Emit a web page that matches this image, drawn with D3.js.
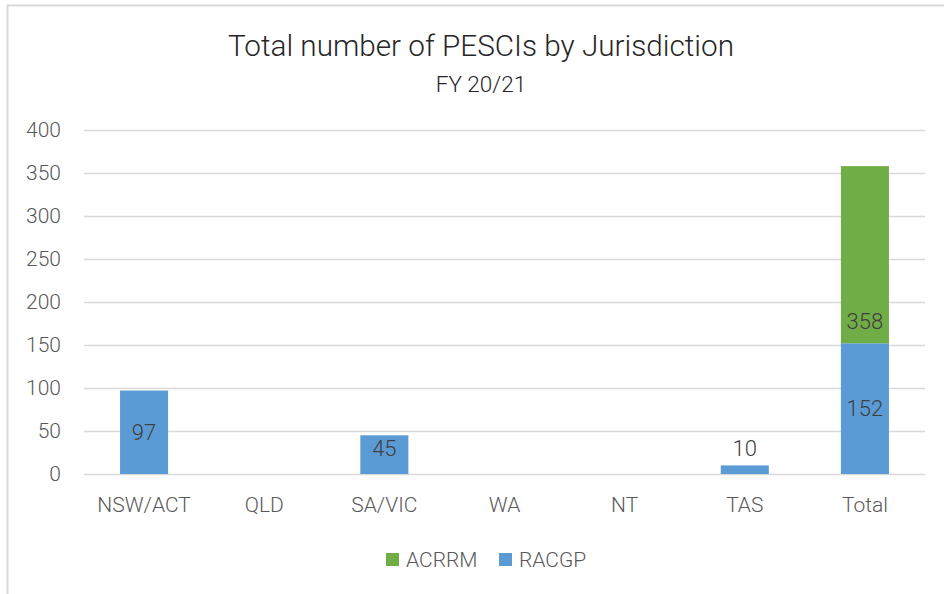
<!DOCTYPE html>
<html>
<head>
<meta charset="utf-8">
<script src="https://cdn.jsdelivr.net/npm/d3@7"></script>
<style>
  body { margin: 0; background: #fff; }
  svg { display: block; font-family: Roboto, "Noto Sans", sans-serif; font-weight: 300; }
</style>
</head>
<body>
<div id="chart"></div>
<script>
'use strict';

// data
const categories = ['NSW/ACT', 'QLD', 'SA/VIC', 'WA', 'NT', 'TAS', 'Total']
const racgp = [97, 0, 45, 0, 0, 10, 152]
const acrrm = [0, 0, 0, 0, 0, 0, 206]
const racgpLabels = ['97', '', '45', '', '', '10', '152']
const acrrmLabels = ['', '', '', '', '', '', '358']
const yTicks = [0, 50, 100, 150, 200, 250, 300, 350, 400]
const seriesNames = ['ACRRM', 'RACGP']
const colors = {ACRRM: '#70AD47', RACGP: '#5B9BD5'}

const W = 944, H = 594
const margin = {top: 130, right: 19, bottom: 120, left: 84}
const width = W - margin.left - margin.right, height = 474 - margin.top

const svg = d3.select('#chart')
    .append('svg')
    .attr('width', W)
    .attr('height', H)

// chart frame (only top and left edges fall inside the picture)
svg.append('rect')
    .attr('x', 7.5).attr('y', 5.5)
    .attr('width', W + 20).attr('height', H + 20)
    .attr('fill', 'none')
    .attr('stroke', '#d9d9d9')
    .attr('stroke-width', 2)

svg.append('text')
    .attr('x', 481).attr('y', 56)
    .attr('text-anchor', 'middle')
    .attr('font-size', 29.7)
    .attr('fill', '#262626')
    .text('Total number of PESCIs by Jurisdiction')

svg.append('text')
    .attr('x', 481).attr('y', 92)
    .attr('text-anchor', 'middle')
    .attr('font-size', 22.5)
    .attr('fill', '#262626')
    .text('FY 20/21')

const graph = svg.append('g')
    .attr('transform', `translate(${margin.left},${margin.top})`)

const x = d3.scaleBand().domain(categories).range([0, width]).paddingInner(0.6).paddingOuter(0.3)
const y = d3.scaleLinear().domain([0, 400]).range([height, 0])

// gridlines + y labels
graph.append('g')
    .call(d3.axisLeft(y).tickValues(yTicks).tickSize(-width).tickPadding(23))
    .call(g => g.select('.domain').remove())
    .call(g => g.selectAll('.tick line').attr('stroke', '#d9d9d9').attr('stroke-width', 1.5))
    .call(g => g.selectAll('.tick text')
        .attr('font-size', 21).attr('fill', '#595959')
        .attr('font-family', 'Roboto, sans-serif').attr('font-weight', 300))

// x labels
graph.append('g')
    .attr('transform', `translate(0,${height})`)
    .call(d3.axisBottom(x).tickSize(0).tickPadding(23))
    .call(g => g.select('.domain').remove())
    .call(g => g.selectAll('.tick text')
        .attr('font-size', 21).attr('fill', '#595959')
        .attr('font-family', 'Roboto, sans-serif').attr('font-weight', 300))

const rows = categories.map((c, i) => ({cat: c, RACGP: racgp[i], ACRRM: acrrm[i], i}))
const stack = d3.stack().keys(['RACGP', 'ACRRM'])(rows)

graph.selectAll('g.series')
    .data(stack)
    .join('g')
    .attr('class', 'series')
    .attr('fill', d => colors[d.key])
    .selectAll('rect')
    .data(d => d.filter(s => s[1] - s[0] > 0))
    .join('rect')
    .attr('x', d => x(d.data.cat))
    .attr('width', x.bandwidth())
    .attr('y', d => y(d[1]))
    .attr('height', d => y(d[0]) - y(d[1]))

// RACGP labels, centred but kept clear of the axis
graph.selectAll('text.lab-r')
    .data(rows.filter(d => racgpLabels[d.i] !== ''))
    .join('text')
    .attr('class', 'lab-r')
    .attr('x', d => x(d.cat) + x.bandwidth() / 2)
    .attr('y', d => Math.min(y(d.RACGP / 2), height - 26))
    .attr('dy', '0.35em')
    .attr('text-anchor', 'middle')
    .attr('font-size', 22)
    .attr('fill', '#404040')
    .text(d => racgpLabels[d.i])

// ACRRM labels sit at the segment base
graph.selectAll('text.lab-a')
    .data(rows.filter(d => acrrmLabels[d.i] !== ''))
    .join('text')
    .attr('class', 'lab-a')
    .attr('x', d => x(d.cat) + x.bandwidth() / 2)
    .attr('y', d => y(d.RACGP) - 22)
    .attr('dy', '0.35em')
    .attr('text-anchor', 'middle')
    .attr('font-size', 22)
    .attr('fill', '#404040')
    .text(d => acrrmLabels[d.i])

// legend
const legendX = [386, 499]
const legend = svg.append('g')
legend.selectAll('rect')
    .data(seriesNames)
    .join('rect')
    .attr('x', (d, i) => legendX[i])
    .attr('y', 553)
    .attr('width', 13).attr('height', 13)
    .attr('fill', d => colors[d])
legend.selectAll('text')
    .data(seriesNames)
    .join('text')
    .attr('x', (d, i) => legendX[i] + 20)
    .attr('y', 559.5)
    .attr('dy', '0.35em')
    .attr('font-size', 21)
    .attr('fill', '#595959')
    .text(d => d)
</script>
</body>
</html>
